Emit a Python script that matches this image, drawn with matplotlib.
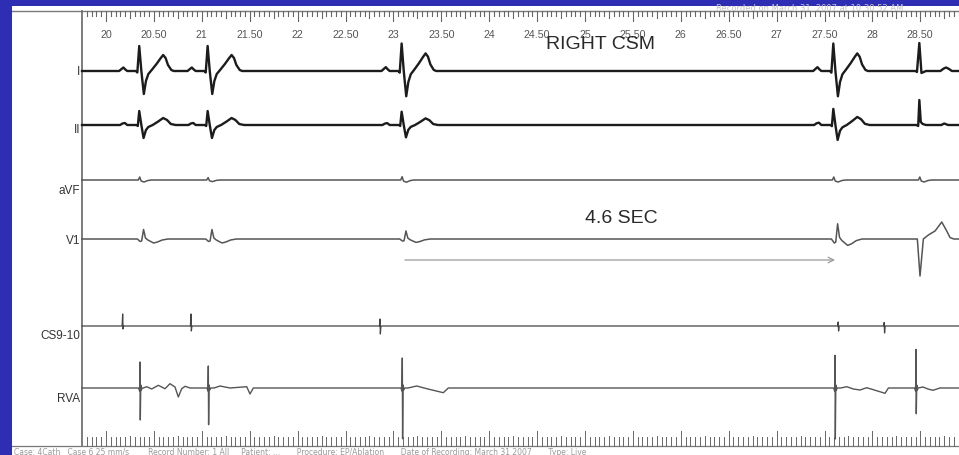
import numpy as np
import matplotlib
matplotlib.use("Agg")
import matplotlib.pyplot as plt
from matplotlib import font_manager

BG = "#2e2eb4"
PX_PER_S = 95.8      # horizontal scale of the strip
T0_PX = 106.0        # pixel column of t = 20 s

_names = {f.name for f in font_manager.fontManager.ttflist}
NARROW = "Liberation Sans Narrow" if "Liberation Sans Narrow" in _names else "Liberation Sans"
SQUEEZE = 1.0 if NARROW == "Liberation Sans Narrow" else 0.85

tick_vals = [20, 20.5, 21, 21.5, 22, 22.5, 23, 23.5, 24, 24.5, 25, 25.5, 26, 26.5, 27, 27.5, 28, 28.5]
tick_labels = ["20", "20.50", "21", "21.50", "22", "22.50", "23", "23.50", "24",
               "24.50", "25", "25.50", "26", "26.50", "27", "27.50", "28", "28.50"]

channels = ["I", "II", "aVF", "V1", "CS9-10", "RVA"]
baselines = [72, 126, 181, 240, 327, 389]
label_y = [72, 130, 191, 241, 336, 399]

# surface beats (s)
beat_t = [20.347, 21.061, 23.086, 27.592, 28.490]
beat_kind = ["n", "n", "n", "n", "e"]

# lead I
I_n_ms = [-210, -185, -165, -145, -125, -35, -20, 0, 22, 48, 70, 95, 130, 180, 225, 250, 275, 300, 335, 360]
I_n_dy = [0, -2, -3.5, -1.5, 0, 0, 1.5, -25, 0, 23, 10, 3, -1, -7, -13, -16, -13, -6, -1, 0]
I_e_ms = [-40, -25, 0, 22, 45, 70, 220, 255, 280, 310, 340]
I_e_dy = [0, 1, -28, 2, 1, 0, 0, -2.5, -3.5, -2, 0]
I_scale = [1.0, 1.0, 1.1, 1.1, 1.0]

# lead II
II_n_ms = [-200, -175, -150, -125, -30, -15, 0, 22, 45, 70, 95, 140, 190, 250, 290, 330, 380]
II_n_dy = [0, -1.5, -2, 0, 0, 1, -14, 0, 13, 5, 2, 0, -3, -7, -5, -1, 0]
II_e_ms = [-30, -12, 0, 15, 35, 70, 230, 260, 300]
II_e_dy = [0, 1, -25, -3, -1, 0, 0, -1.5, 0]
II_scale = [1.0, 1.0, 0.95, 1.15, 1.0]

# aVF
aVF_ms = [-30, -10, 5, 20, 50, 90, 130]
aVF_dy = [0, 0, -3, 1, 2, 0.5, 0]
aVF_scale = [1.0, 0.8, 1.1, 1.0, 1.0]

# V1
V1_n_ms = [-20, 10, 25, 45, 65, 90, 150, 190, 240, 300]
V1_n_dy = [0, 2.5, 2, -9.5, -1, 1, 4, 3, 1, 0]
V1_e_ms = [-35, -21, 7, 42, 94, 164, 234, 286, 320, 360]
V1_e_dy = [0, 0, 37, 0, -4, -8, -17, -8, -1.5, 0]
V1_scale = [1.0, 1.0, 0.85, 1.6, 1.0]

# CS9-10 atrial deflections
cs_t = [20.174, 20.887, 22.860, 27.643, 28.123]
cs_up = [12, 12, 7, 4, 3.5]
cs_down = [3, 5, 8, 5, 7]

# RVA
rva_t = [20.355, 21.068, 23.093, 27.610, 28.455]
rva_top = [26, 22, 30, 32.6, 38.6]
rva_bottom = [32, 36.7, 50.7, 51, 25.7]
rva_tail_ms = [[34, 70, 122, 191, 261, 313, 365, 400, 435, 470, 522],
               [60, 122, 227, 401, 435, 470],
               [60, 150, 255, 428, 480],
               [60, 122, 191, 261, 331, 522, 557],
               [73, 125, 177, 250]]
rva_tail_dy = [[0, -1.3, 1, -2.7, 0.7, -4.3, -1, 9, 0.7, -1.7, 0],
               [0, -2, 0, -1.3, 6, 0],
               [0, -2, 0.7, 4.7, 0],
               [0, -1.3, 1, 2, -0.3, 5.3, 0],
               [-1, 1, 2.3, 0]]

arrow_t = (23.12, 27.61)
arrow_y = 261


def px_t(px):
    return 20 + (px - T0_PX) / PX_PER_S


T_LEFT = px_t(12)
T_RIGHT = px_t(959)
T_AXIS = px_t(82)


def build(times, shapes, base):
    ts = [T_AXIS]
    ys = [base]
    for bt, (ms, dy) in zip(times, shapes):
        ts += list(bt + np.asarray(ms) / 1000.0)
        ys += list(base + np.asarray(dy, dtype=float))
    ts.append(T_RIGHT)
    ys.append(base)
    ts = np.asarray(ts)
    ys = np.asarray(ys)
    o = np.argsort(ts, kind="stable")
    return ts[o], ys[o]


fig = plt.figure(figsize=(9.59, 4.56), dpi=100, facecolor=BG)
ax = fig.add_axes([12 / 959, 0, 947 / 959, 449 / 456])
ax.set_facecolor("white")
ax.set_xlim(T_LEFT, T_RIGHT)
ax.set_ylim(456, 7)
ax.set_xticks([])
ax.set_yticks([])
for s in ax.spines.values():
    s.set_visible(False)

# frame lines
ax.plot([T_LEFT, T_RIGHT], [12, 12], color="#7a7a7a", lw=1.0)
ax.plot([T_AXIS, T_AXIS], [12, 447], color="#666666", lw=1.2)
ax.plot([T_LEFT, T_RIGHT], [447.5, 447.5], color="#777777", lw=0.9)

# rulers
rt = np.arange(19.80, T_RIGHT, 0.05)
for t in rt:
    k = int(round(t * 20))
    if k % 10 == 0:
        top_len, bot_len = 10, 15
    elif k % 5 == 0:
        top_len, bot_len = 7, 10
    else:
        top_len, bot_len = 5, 9
    ax.plot([t, t], [12, 12 + top_len], color="#666666", lw=0.8)
    ax.plot([t, t], [447.5, 447.5 - bot_len], color="#666666", lw=0.7)

for v, lab in zip(tick_vals, tick_labels):
    ax.text(v, 35.5, lab, ha="center", va="center", fontsize=9 * SQUEEZE,
            family=NARROW, color="#555555")

# channel labels
for name, y in zip(channels, label_y):
    ax.text(px_t(80.5), y, name, ha="right", va="center", fontsize=10 * SQUEEZE,
            family=NARROW, color="#333333")

# traces
def pick(kind, n, e):
    return n if kind == "n" else e

shapes = [(pick(k, I_n_ms, I_e_ms), np.asarray(pick(k, I_n_dy, I_e_dy)) * s)
          for k, s in zip(beat_kind, I_scale)]
x, y = build(beat_t, shapes, baselines[0])
ax.plot(x, y, color="#1c1c1c", lw=1.7, solid_joinstyle="round")

shapes = [(pick(k, II_n_ms, II_e_ms), np.asarray(pick(k, II_n_dy, II_e_dy)) * s)
          for k, s in zip(beat_kind, II_scale)]
x, y = build(beat_t, shapes, baselines[1])
ax.plot(x, y, color="#1c1c1c", lw=1.7, solid_joinstyle="round")

shapes = [(aVF_ms, np.asarray(aVF_dy) * s) for s in aVF_scale]
x, y = build(beat_t, shapes, baselines[2])
ax.plot(x, y, color="#555555", lw=1.1)

shapes = [(pick(k, V1_n_ms, V1_e_ms), np.asarray(pick(k, V1_n_dy, V1_e_dy)) * s)
          for k, s in zip(beat_kind, V1_scale)]
x, y = build(beat_t, shapes, baselines[3])
ax.plot(x, y, color="#555555", lw=1.1)

shapes = [([-6, 0, 4, 10], [0, -u, d, 0]) for u, d in zip(cs_up, cs_down)]
x, y = build(cs_t, shapes, baselines[4])
ax.plot(x, y, color="#444444", lw=0.9)

shapes = []
for top, bot, tms, tdy in zip(rva_top, rva_bottom, rva_tail_ms, rva_tail_dy):
    ms = [-14, -4, 0, 3, 8, 14, 22] + tms
    dy = [0, 3, -top, bot, -3, 2, 0] + tdy
    shapes.append((ms, dy))
x, y = build(rva_t, shapes, baselines[5])
ax.plot(x, y, color="#555555", lw=1.0)

# annotations
ax.annotate("", xy=(arrow_t[1], arrow_y), xytext=(arrow_t[0], arrow_y),
            arrowprops=dict(arrowstyle="->", color="#9a9a9a", lw=0.9,
                            shrinkA=0, shrinkB=0, mutation_scale=10))
ax.text(25.376, 219, "4.6 SEC", ha="center", va="center", fontsize=14,
        family="Liberation Sans", color="#2a2a2a")
ax.text(25.167, 44.5, "RIGHT CSM", ha="center", va="center", fontsize=16.5 * SQUEEZE,
        family=NARROW, color="#2a2a2a")

# faint header / footer print
ax.text(px_t(716), 8.5, "Recorded on March 31, 2007 at 10:30:52 AM",
        ha="left", va="center", fontsize=6, color="#c4c4c4")
ax.text(px_t(14), 453, "Case: 4Cath   Case 6 25 mm/s        Record Number: 1 All     "
        "Patient: ...       Procedure: EP/Ablation       Date of Recording: March 31 2007       Type: Live",
        ha="left", va="center", fontsize=5.5, color="#9a9a9a", clip_on=True)

fig.savefig("out.png", dpi=100, facecolor=BG)
